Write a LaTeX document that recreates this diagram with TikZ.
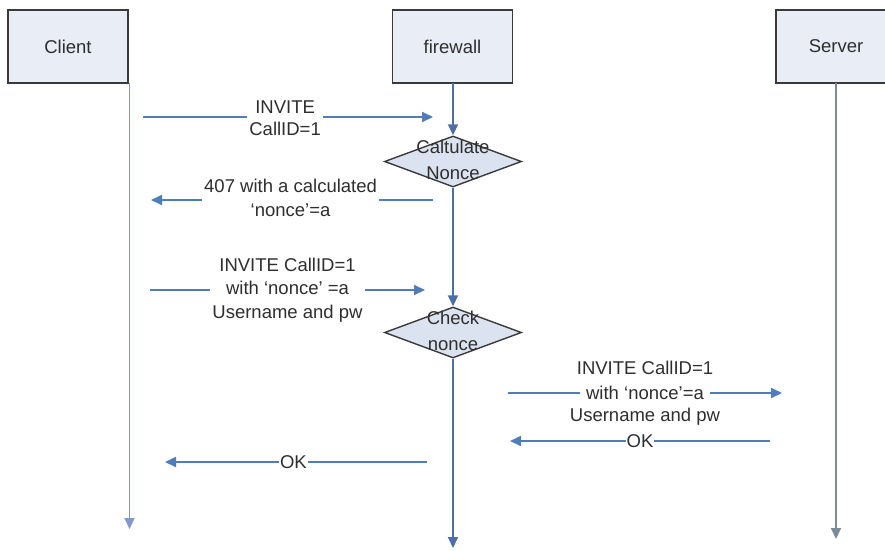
\documentclass[tikz,border=0pt]{standalone}
\usepackage{fontspec}
\setmainfont{Liberation Sans}
\usetikzlibrary{shapes.geometric,arrows.meta}

\definecolor{boxfill}{HTML}{E9EDF6}
\definecolor{diafill}{HTML}{DCE3F0}
\definecolor{edgegray}{HTML}{3A3A3A}
\definecolor{txt}{HTML}{2E2E2E}
\definecolor{msgblue}{HTML}{4F7DBA}
\definecolor{clientline}{HTML}{7F98D0}
\definecolor{fwline}{HTML}{4C70A6}
\definecolor{srvline}{HTML}{7C8B99}

\begin{document}
\begin{tikzpicture}[x=1pt,y=-1pt,
  actor/.style={draw=edgegray, line width=1.6pt, fill=boxfill,
    minimum width=120pt, minimum height=73pt, inner sep=0pt,
    text=txt, font=\fontsize{18.5}{22}\selectfont},
  check/.style={diamond, draw=edgegray, line width=1.4pt, fill=diafill,
    minimum width=137pt, minimum height=51pt, inner sep=0pt},
  checktext/.style={align=center, text=txt, inner sep=0pt,
    font=\fontsize{18.5}{25.5}\selectfont},
  tip/.style={-{Triangle[length=11pt,width=10pt]}},
  msg/.style={draw=msgblue, line width=1.8pt, tip},
  life/.style={line width=1.8pt, tip},
  lbl/.style={fill=white, inner sep=2pt, align=center, text=txt,
    font=\fontsize{18.5}{23.5}\selectfont}]

\clip (0,0) rectangle (885,550);

% participants
\node[actor] (client) at (68,46.5) {Client};
\node[actor] (fw) at (452.5,46.5) {firewall};
\node[actor] (srv) at (836,46.5) {Server};

% firewall decisions
\node[check] (calc) at (453,161.5) {};
\node[checktext] (calctext) at (453,160) {Caltulate\\Nonce};
\node[check] (chk) at (453,332.5) {};
\node[checktext] (chktext) at (453,331) {Check\\nonce};

% lifeline end points
\coordinate (clientTop) at (129.5,83);
\coordinate (clientEnd) at (129.5,529);
\coordinate (fwTop) at (453,83);
\coordinate (fwEnd) at (453,548);
\coordinate (srvTop) at (836,83);
\coordinate (srvEnd) at (836,539);

% lifelines
\draw[life, draw=clientline, fill=msgblue] (clientTop) -- (clientEnd);
\draw[life, draw=fwline, fill=msgblue] (fwTop) -- (calc.north);
\draw[life, draw=fwline, fill=msgblue] (calc.south) -- (chk.north);
\draw[life, draw=fwline, fill=msgblue] (chk.south) -- (fwEnd);
\draw[life, draw=srvline, fill=msgblue] (srvTop) -- (srvEnd);

% message end points
\coordinate (m1a) at (143,117);   \coordinate (m1b) at (433,117);
\coordinate (m2a) at (433,200);   \coordinate (m2b) at (151,200);
\coordinate (m3a) at (150,290);   \coordinate (m3b) at (425,290);
\coordinate (m4a) at (427,462);   \coordinate (m4b) at (165,462);
\coordinate (m5a) at (508,393);   \coordinate (m5b) at (782,393);
\coordinate (m6a) at (770,441);   \coordinate (m6b) at (510,441);

% messages
\draw[msg, fill=msgblue] (m1a) -- (m1b)
  node[lbl, pos=0.49, yshift=-1pt, font=\fontsize{18.5}{21.5}\selectfont] (l1) {INVITE\\CallID=1};
\draw[msg, fill=msgblue] (m2a) -- (m2b)
  node[lbl, pos=0.505, yshift=2pt] (l2) {407 with a calculated\\‘nonce’=a};
\draw[msg, fill=msgblue] (m3a) -- (m3b)
  node[lbl, pos=0.5] (l3) {INVITE CallID=1\\with ‘nonce’ =a\\Username and pw};
\draw[msg, fill=msgblue] (m4a) -- (m4b)
  node[lbl, pos=0.51, inner sep=1pt] (l4) {OK};
\draw[msg, fill=msgblue] (m6a) -- (m6b)
  node[lbl, pos=0.5, inner sep=1pt] (l6) {OK};
\draw[msg, fill=msgblue] (m5a) -- (m5b)
  node[lbl, pos=0.5, fill=none] (l5) {INVITE CallID=1\\\phantom{with ‘nonce’=a}\\Username and pw};
\node[lbl, inner sep=6pt] (l5mid) at (l5.center) {with ‘nonce’=a};

\end{tikzpicture}
\end{document}
